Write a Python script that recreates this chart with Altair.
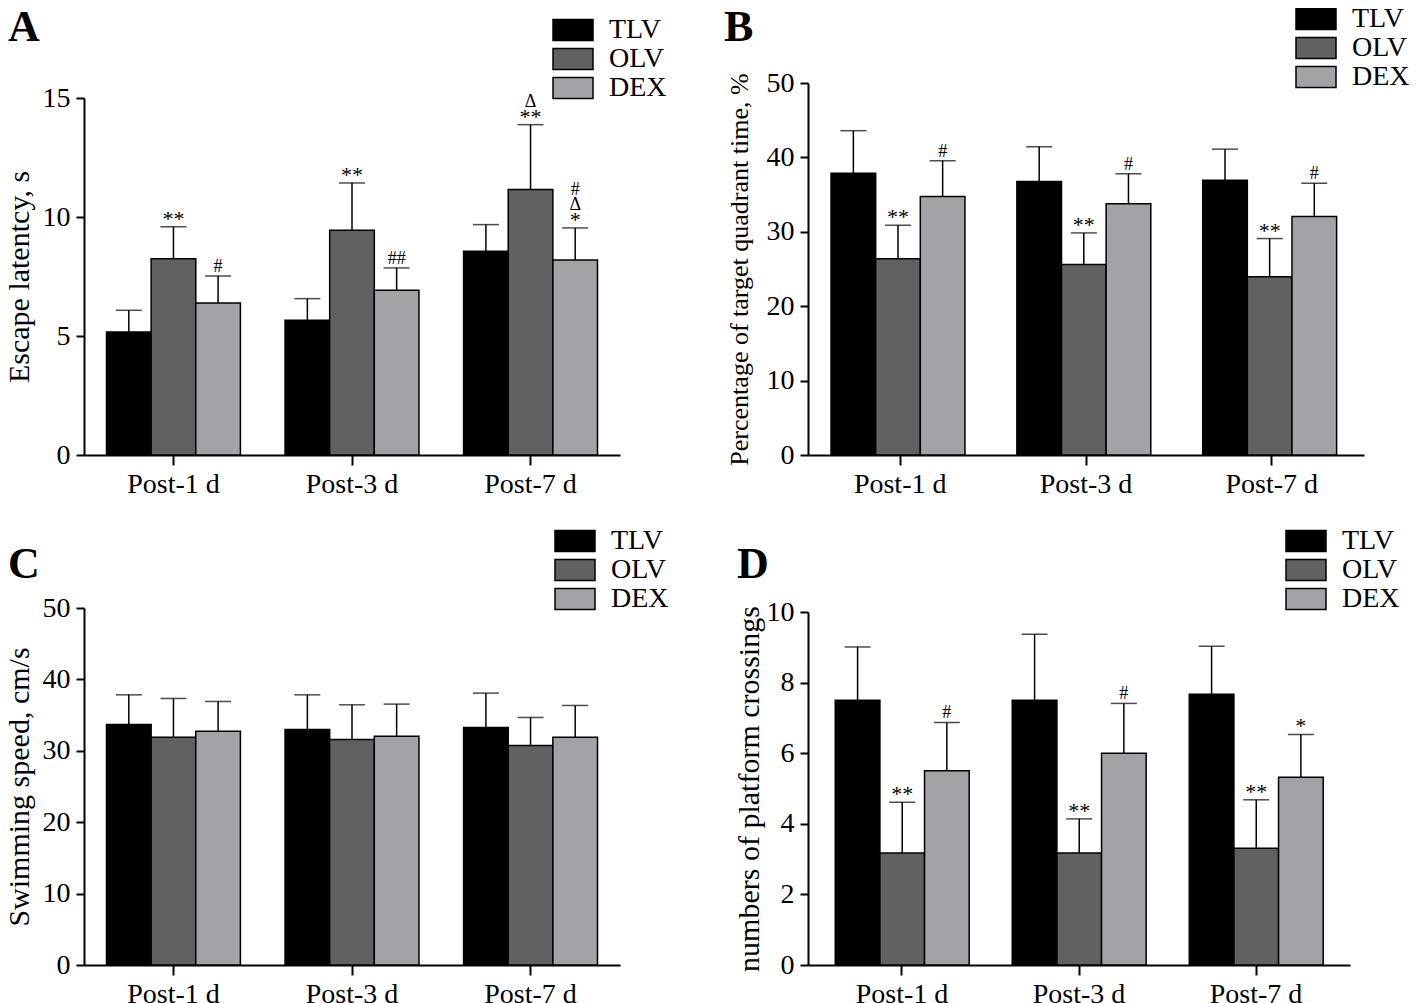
import altair as alt
import pandas as pd

FONT = "Liberation Serif"

groups = ["TLV", "OLV", "DEX"]
days = ["Post-1 d", "Post-3 d", "Post-7 d"]
colors = ["#000000", "#616161", "#a3a3a7"]
letters = ["A", "B", "C", "D"]

# Panel A: escape latency, s
esc_mean = {"TLV": [5.17, 5.66, 8.56], "OLV": [8.25, 9.44, 11.16], "DEX": [6.39, 6.92, 8.19]}
esc_upper = {"TLV": [6.08, 6.57, 9.68], "OLV": [9.59, 11.43, 13.88], "DEX": [7.52, 7.86, 9.54]}
esc_marks = [("Post-1 d", "OLV", "**", 0), ("Post-1 d", "DEX", "#", 0),
             ("Post-3 d", "OLV", "**", 0), ("Post-3 d", "DEX", "##", 0),
             ("Post-7 d", "OLV", "**", 0), ("Post-7 d", "OLV", "Δ", 1),
             ("Post-7 d", "DEX", "*", 0), ("Post-7 d", "DEX", "Δ", 1), ("Post-7 d", "DEX", "#", 2)]

# Panel B: percentage of target quadrant time, %
quad_mean = {"TLV": [37.88, 36.76, 36.94], "OLV": [26.39, 25.59, 23.97], "DEX": [34.74, 33.76, 32.05]}
quad_upper = {"TLV": [43.59, 41.43, 41.11], "OLV": [30.88, 29.85, 29.09], "DEX": [39.55, 37.80, 36.53]}
quad_marks = [("Post-1 d", "OLV", "**", 0), ("Post-1 d", "DEX", "#", 0),
              ("Post-3 d", "OLV", "**", 0), ("Post-3 d", "DEX", "#", 0),
              ("Post-7 d", "OLV", "**", 0), ("Post-7 d", "DEX", "#", 0)]

# Panel C: swimming speed, cm/s
speed_mean = {"TLV": [33.69, 32.99, 33.27], "OLV": [31.90, 31.58, 30.74], "DEX": [32.75, 32.05, 31.91]}
speed_upper = {"TLV": [37.84, 37.84, 38.08], "OLV": [37.33, 36.44, 34.67], "DEX": [36.91, 36.54, 36.35]}
speed_marks = []

# Panel D: numbers of platform crossings
cross_mean = {"TLV": [7.50, 7.50, 7.67], "OLV": [3.17, 3.17, 3.31], "DEX": [5.50, 6.00, 5.32]}
cross_upper = {"TLV": [9.01, 9.37, 9.03], "OLV": [4.61, 4.14, 4.68], "DEX": [6.87, 7.41, 6.53]}
cross_marks = [("Post-1 d", "OLV", "**", 0), ("Post-1 d", "DEX", "#", 0),
               ("Post-3 d", "OLV", "**", 0), ("Post-3 d", "DEX", "#", 0),
               ("Post-7 d", "OLV", "**", 0), ("Post-7 d", "DEX", "*", 0)]

# glyph-bottom gap above the error cap for stacked markers
GAP = {0: 4, 1: 18, 2: 33}


def panel(means, uppers, marks, ymax, yvals, ytitle, ytitle_size, title_pad,
          letter, width, height, ytop, xpi, xpo, leg_x, leg_y, let_x, let_y):
    rows = []
    for g in groups:
        for i, d in enumerate(days):
            rows.append({"day": d, "group": g, "mean": means[g][i], "upper": uppers[g][i]})
    df = pd.DataFrame(rows)

    xenc = alt.X("day:N", sort=days,
                 scale=alt.Scale(paddingInner=xpi, paddingOuter=xpo),
                 axis=alt.Axis(title=None, labelAngle=0, labelPadding=5, tickSize=10))
    xoff = alt.XOffset("group:N", sort=groups)
    yscale = alt.Scale(domain=[0, ymax], range=[height, ytop], nice=False)
    yaxis = alt.Axis(values=yvals, title=ytitle, titleFontSize=ytitle_size,
                     titlePadding=title_pad, format="d", tickSize=8, labelPadding=6)

    def Y(field):
        return alt.Y(field, scale=yscale, axis=yaxis)

    whisk = alt.Chart(df).mark_rule(color="black", strokeWidth=1.5).encode(
        x=xenc, xOffset=xoff, y=Y("mean:Q"), y2="upper:Q")
    cap = alt.Chart(df).mark_tick(color="black", thickness=1.5, size=26,
                                  orient="horizontal").encode(
        x=xenc, xOffset=xoff, y=Y("upper:Q"))
    bars = alt.Chart(df).mark_bar(stroke="black", strokeWidth=1.5).encode(
        x=xenc, xOffset=xoff, y=Y("mean:Q"),
        color=alt.Color("group:N", sort=groups,
                        scale=alt.Scale(domain=groups, range=colors),
                        legend=alt.Legend(title=None, orient="none", legendX=leg_x, legendY=leg_y,
                                          symbolType="M-2,-1.05H2V1.05H-2Z", symbolSize=400,
                                          symbolStrokeColor="black", symbolStrokeWidth=1.5,
                                          symbolOpacity=1, labelOffset=22, rowPadding=1,
                                          padding=0)))
    layers = [whisk, cap, bars]

    if marks:
        lookup = {(d, g): uppers[g][days.index(d)] for g in groups for d in days}
        mrows = []
        for d, g, t, r in marks:
            kind = "star" if "*" in t else "sym"
            mrows.append({"day": d, "group": g, "text": t, "rank": r, "kind": kind,
                          "upper": lookup[(d, g)]})
        mdf = pd.DataFrame(mrows)
        for (r, kind), sub in mdf.groupby(["rank", "kind"]):
            size = 22 if kind == "star" else 18
            dy = -GAP[r] + (3 if kind == "star" else 0)
            layers.append(alt.Chart(sub).mark_text(font=FONT, fontSize=size, color="black",
                                                   baseline="alphabetic", dy=dy).encode(
                x=xenc, xOffset=xoff, y=Y("upper:Q"), text="text:N"))

    lab = alt.Chart(pd.DataFrame({"letter": [letter]})).mark_text(
        font=FONT, fontSize=44, fontWeight="bold", color="black", align="left",
        baseline="alphabetic").encode(text="letter:N", x=alt.value(let_x), y=alt.value(let_y))
    layers.append(lab)

    return alt.layer(*layers).properties(width=width, height=height)


pa = panel(esc_mean, esc_upper, esc_marks, 15, [0, 5, 10, 15], "Escape latentcy, s", 30, 8,
           letters[0], 536, 372, 15, 0.25, 0.126, 475, -67, -76, -42)
pb = panel(quad_mean, quad_upper, quad_marks, 50, [0, 10, 20, 30, 40, 50],
           "Percentage of target quadrant time, %", 26, 14,
           letters[1], 556, 372, 0, 0.256, 0.124, 494, -78, -84, -42)
pc = panel(speed_mean, speed_upper, speed_marks, 50, [0, 10, 20, 30, 40, 50],
           "Swimming speed, cm/s", 30, 8,
           letters[2], 536, 357, 0, 0.25, 0.126, 477, -81, -76, -30)
pd_ = panel(cross_mean, cross_upper, cross_marks, 10, [0, 2, 4, 6, 8, 10],
            "numbers of platform crossings", 30, 2,
            letters[3], 542, 357, 4, 0.246, 0.154, 484, -81, -71, -30)

chart = alt.concat(pa, pb, pc, pd_, columns=2, spacing={"row": 153, "column": 168},
                   bounds="flush", align="all").resolve_scale(
    color="independent", x="independent", y="independent").properties(
    padding={"left": -4, "top": -3, "right": 0, "bottom": 0}, background="white").configure_view(
    stroke=None).configure_axis(
    labelFont=FONT, labelFontSize=28, labelColor="black", titleFont=FONT,
    titleFontWeight="normal", titleColor="black", domainColor="black", domainWidth=2,
    tickColor="black", tickWidth=2, grid=False).configure_legend(
    labelFont=FONT, labelFontSize=28, labelColor="black")

chart.save("out.html", embed_options={"renderer": "svg", "actions": False})
